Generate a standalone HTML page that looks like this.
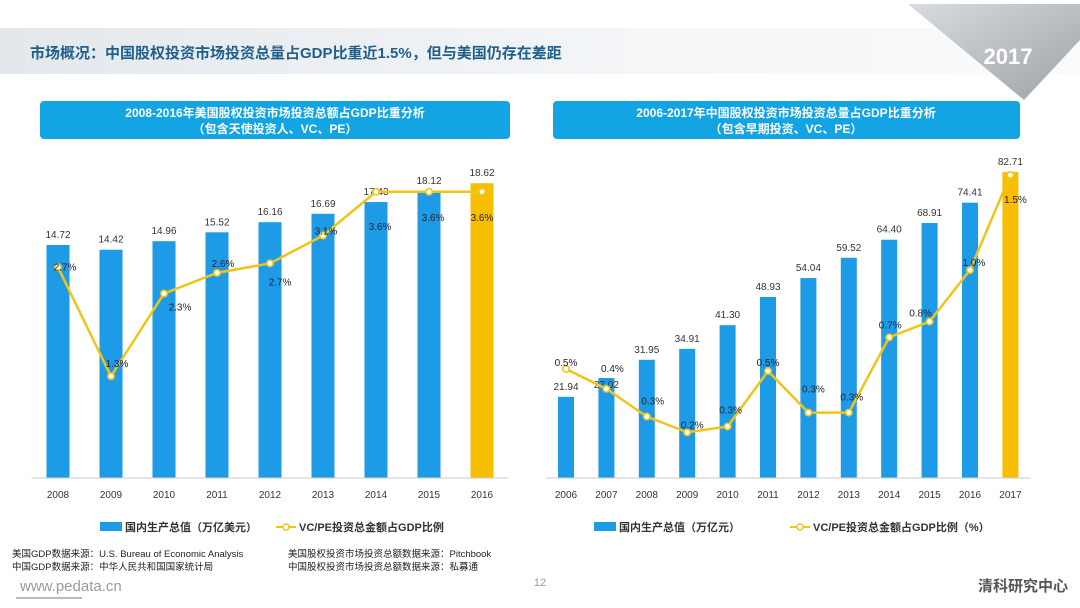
<!DOCTYPE html>
<html><head><meta charset="utf-8">
<style>
body{margin:0;width:1080px;height:608px;overflow:hidden;background:#fff;font-family:"Liberation Sans","Noto Sans CJK SC",sans-serif;}
svg{display:block}
</style></head>
<body>
<svg width="1080" height="608" viewBox="0 0 1080 608">
<defs>
<linearGradient id="band" x1="0" x2="1"><stop offset="0" stop-color="#e4e8ec"/><stop offset="0.6" stop-color="#f4f6f8"/><stop offset="1" stop-color="#fafbfc"/></linearGradient>
<linearGradient id="tri" x1="0" y1="0" x2="1" y2="1"><stop offset="0" stop-color="#d9dcdf"/><stop offset="1" stop-color="#9ea3a8"/></linearGradient>
</defs>
<rect x="0" y="28" width="1080" height="46" fill="url(#band)"/>
<polygon points="908,4 1080,4 1080,40 1024,100" fill="url(#tri)"/>
<text x="1008" y="64" font-size="22" font-weight="bold" fill="#fff" text-anchor="middle">2017</text>
<text x="30" y="58" font-size="15" font-weight="bold" fill="#1f5f8b">市场概况：中国股权投资市场投资总量占GDP比重近1.5%，但与美国仍存在差距</text>

<rect x="40" y="101" width="470" height="38" rx="4" fill="#13a4e4"/>
<text x="275" y="117" font-size="12" font-weight="bold" fill="#fff" text-anchor="middle">2008-2016年美国股权投资市场投资总额占GDP比重分析</text>
<text x="275" y="133" font-size="12" font-weight="bold" fill="#fff" text-anchor="middle">（包含天使投资人、VC、PE）</text>
<rect x="553" y="101" width="467" height="38" rx="4" fill="#13a4e4"/>
<text x="786" y="117" font-size="12" font-weight="bold" fill="#fff" text-anchor="middle">2006-2017年中国股权投资市场投资总量占GDP比重分析</text>
<text x="786" y="133" font-size="12" font-weight="bold" fill="#fff" text-anchor="middle">（包含早期投资、VC、PE）</text>

<g id="left"></g>
<g id="right"></g>

<g>
<rect x="100" y="522" width="22" height="9" fill="#1e9be6"/>
<text x="125" y="531" font-size="11" font-weight="bold" fill="#333">国内生产总值（万亿美元）</text>
<line x1="276" y1="527" x2="296" y2="527" stroke="#f0c419" stroke-width="2"/>
<circle cx="286" cy="527" r="3" fill="#fff" stroke="#f0c419" stroke-width="1.5"/>
<text x="299" y="531" font-size="11" font-weight="bold" fill="#333">VC/PE投资总金额占GDP比例</text>
</g>
<g>
<rect x="594" y="522" width="22" height="9" fill="#1e9be6"/>
<text x="619" y="531" font-size="11" font-weight="bold" fill="#333">国内生产总值（万亿元）</text>
<line x1="790" y1="527" x2="810" y2="527" stroke="#f0c419" stroke-width="2"/>
<circle cx="800" cy="527" r="3" fill="#fff" stroke="#f0c419" stroke-width="1.5"/>
<text x="813" y="531" font-size="11" font-weight="bold" fill="#333">VC/PE投资总金额占GDP比例（%）</text>
</g>
<g font-size="9.5" fill="#222">
<text x="12" y="557">美国GDP数据来源：U.S. Bureau of Economic Analysis</text>
<text x="12" y="570">中国GDP数据来源：中华人民共和国国家统计局</text>
<text x="288" y="557">美国股权投资市场投资总额数据来源：Pitchbook</text>
<text x="288" y="570">中国股权投资市场投资总额数据来源：私募通</text>
</g>
<text x="20" y="591" font-size="15" fill="#999">www.pedata.cn</text>
<line x1="16" y1="598" x2="82" y2="598" stroke="#bbb" stroke-width="2"/>
<text x="540" y="586" font-size="11" fill="#999" text-anchor="middle">12</text>
<text x="1068" y="591" font-size="15" font-weight="bold" fill="#555" text-anchor="end">清科研究中心</text>
</svg>
<script>
const usYears=["2008","2009","2010","2011","2012","2013","2014","2015","2016"];
const usGdp=[14.72,14.42,14.96,15.52,16.16,16.69,17.43,18.12,18.62];
const usRatio=[2.65,1.28,2.32,2.58,2.7,3.05,3.6,3.6,3.6];
const usRatioLabels=["2.7%","1.3%","2.3%","2.6%","2.7%","3.1%","3.6%","3.6%","3.6%"];
const cnYears=["2006","2007","2008","2009","2010","2011","2012","2013","2014","2015","2016","2017"];
const cnGdp=[21.94,27.02,31.95,34.91,41.30,48.93,54.04,59.52,64.40,68.91,74.41,82.71];
const cnRatio=[0.52,0.42,0.28,0.2,0.23,0.51,0.3,0.3,0.68,0.76,1.02,1.5];
const cnRatioLabels=["0.5%","0.4%","0.3%","0.2%","0.3%","0.5%","0.3%","0.3%","0.7%","0.8%","1.0%","1.5%"];
// layout offsets for labels (pixels, not data)
const usLayout={dx:[7,6,16,6,10,3,4,4,0],dy:[3,-9,17,-6,22,-1,38,29,29],vdy:[0,0,0,0,0,0,0,0,0]};
const cnLayout={dx:[0,6,6,5,3,0,5,3,1,-9,4,5],dy:[-3,-17,-12,-4,-13,-5,-20,-12,-9,-5,-4,28],vdy:[0,17,0,0,0,0,0,0,0,0,0,0]};
const NS="http://www.w3.org/2000/svg";
function mk(p,t,a,txt){const e=document.createElementNS(NS,t);for(const k in a)e.setAttribute(k,a[k]);if(txt!==undefined)e.textContent=txt;p.appendChild(e);return e;}
function draw(gid,years,gdp,ratio,labels,L,x0,step,bw,gScale,base,pBase,pScale){
  const g=document.getElementById(gid);
  const xs=i=>x0+i*step, yb=v=>base-v*gScale, yl=v=>pBase-v*pScale;
  years.forEach((y,i)=>{
    const last=i===years.length-1;
    const r=mk(g,'rect',{x:xs(i)-bw/2,y:yb(gdp[i]),width:bw,height:base-yb(gdp[i]),fill:last?'#f7bf00':'#1e9be6'});
    
    
    const t=mk(g,'text',{x:xs(i),y:yb(gdp[i])-7+L.vdy[i],'font-size':10,fill:'#333','text-anchor':'middle'},gdp[i].toFixed(2));
    
    
    const xl=mk(g,'text',{x:xs(i),y:base+20,'font-size':10,fill:'#333','text-anchor':'middle'},y);
    
    
  });
  mk(g,'line',{x1:x0-step/2,y1:base,x2:xs(years.length-1)+step/2,y2:base,stroke:'#ccc'});
  const pl=mk(g,'polyline',{points:ratio.map((v,i)=>xs(i)+','+yl(v)).join(' '),fill:'none',stroke:'#f0c419','stroke-width':2.5});
  
  
  ratio.forEach((v,i)=>{
    const c=mk(g,'circle',{cx:xs(i),cy:yl(v),r:3.2,fill:'#fff',stroke:'#f0c419','stroke-width':1.6});
    
    
    const t=mk(g,'text',{x:xs(i)+L.dx[i],y:yl(v)+L.dy[i],'font-size':10,fill:'#223','text-anchor':'middle'},labels[i]);
    
    
  });
}
draw('left',usYears,usGdp,usRatio,usRatioLabels,usLayout,58,53,23,15.83,478,478,79.5);
draw('right',cnYears,cnGdp,cnRatio,cnRatioLabels,cnLayout,566,40.4,16,3.70,478,472,198);
</script>
</body></html>
